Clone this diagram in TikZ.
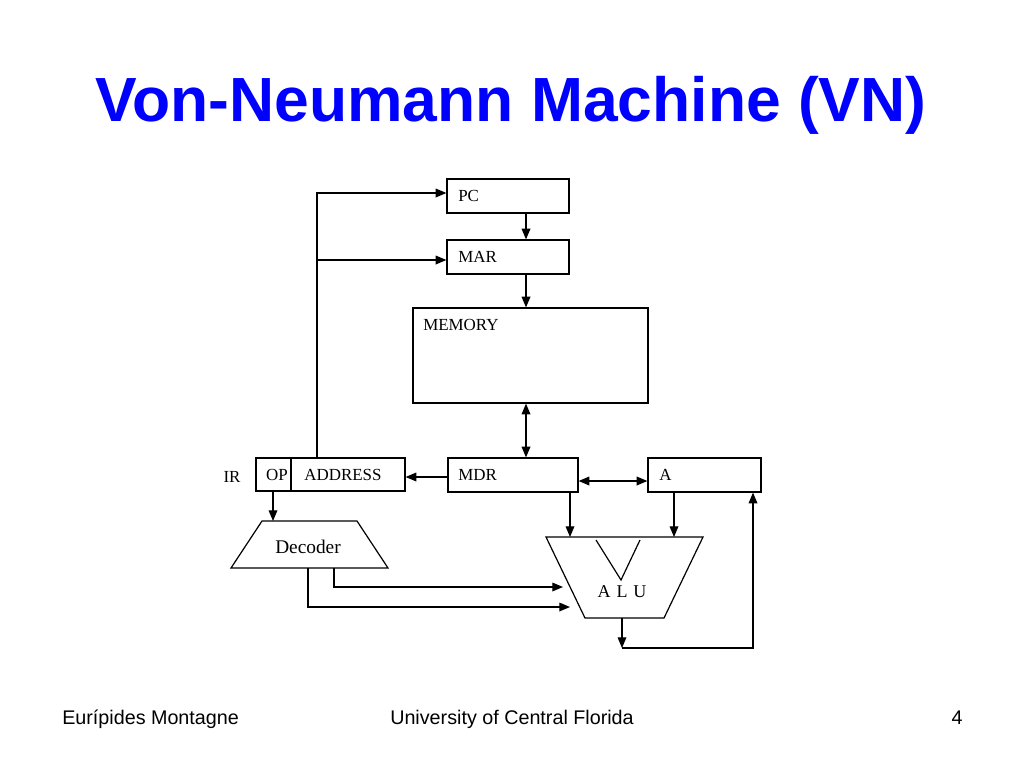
\documentclass[tikz,border=0pt]{standalone}
\usepackage{fontspec}
\setmainfont{Liberation Serif}
\newfontfamily\arialfont{Liberation Sans}
\usetikzlibrary{arrows.meta}
\definecolor{titleblue}{RGB}{0,0,255}
\tikzset{
  reg/.style={draw, line width=0.9pt, minimum width=#1, minimum height=25.5pt, inner sep=0pt},
  txt/.style={font=\fontsize{12.7}{14}\selectfont, inner sep=0pt},
  wire/.style={line width=0.9pt},
  arr/.style={wire, -{Triangle[length=8pt,width=6.5pt]}},
  darr/.style={wire, {Triangle[length=8pt,width=6.5pt]}-{Triangle[length=8pt,width=6.5pt]}},
}
\begin{document}
\begin{tikzpicture}[x=0.75pt,y=-0.75pt]
\useasboundingbox (0,0) rectangle (1024,768);
% title
\node[anchor=base, text=titleblue, font=\arialfont\bfseries\fontsize{46.8}{50}\selectfont, inner sep=0pt] (title) at (511,121) {Von-Neumann Machine (VN)};
% registers
\node[reg=91.5pt] (pc) at (508,196) {};
\node[txt, anchor=west] (pct) at (458,196) {PC};
\node[reg=91.5pt] (mar) at (508,257) {};
\node[txt, anchor=west] (mart) at (458,257) {MAR};
\node[draw, line width=0.9pt, minimum width=176.25pt, minimum height=71.25pt, inner sep=0pt] (mem) at (530.5,355.5) {};
\node[txt, anchor=west] (memt) at (423,325) {MEMORY};
\node[reg=97.5pt] (mdr) at (513,475) {};
\node[txt, anchor=west] (mdrt) at (458,475) {MDR};
\node[reg=84.75pt] (a) at (704.5,475) {};
\node[txt, anchor=west] (at) at (659,475) {A};
\node[reg=111.75pt, minimum height=24.75pt] (ir) at (330.5,474.5) {};
\draw[wire] (291,458) -- (291,491);
\node[txt] (opt) at (277,475) {OP};
\node[txt] (addrt) at (343,475) {ADDRESS};
\node[txt] (irl) at (232,477) {IR};
% decoder
\coordinate (d1) at (262,521);
\coordinate (d2) at (357,521);
\coordinate (d3) at (388,568);
\coordinate (d4) at (231,568);
\draw[wire] (d1) -- (d2) -- (d3) -- (d4) -- cycle;
\node[font=\fontsize{14.5}{16}\selectfont, inner sep=0pt] (dect) at (308,547) {Decoder};
% ALU
\coordinate (l1) at (546,537);
\coordinate (l2) at (703,537);
\coordinate (l3) at (664,618);
\coordinate (l4) at (585,618);
\draw[wire] (l1) -- (l2) -- (l3) -- (l4) -- cycle;
\draw[wire] (596,540) -- (621,580) -- (640,540);
\node[font=\fontsize{13.5}{15}\selectfont, inner sep=0pt] (alut) at (622,592) {A\,\,L\,\,U};
% connectors
\draw[arr] (pc.south -| 526,0) -- (mar.north -| 526,0);
\draw[arr] (mar.south -| 526,0) -- (mem.north -| 526,0);
\draw[darr] (mem.south -| 526,0) -- (mdr.north -| 526,0);
\draw[arr] (mdr.west |- 0,477) -- (ir.east |- 0,477);
\draw[darr] (mdr.east |- 0,481) -- (a.west |- 0,481);
\coordinate (bend1) at (317,193);
\draw[arr] (ir.north -| 317,0) -- (bend1) -- (pc.west |- bend1);
\draw[arr] (317,260) -- (mar.west |- 0,260);
\draw[arr] (ir.south -| 273,0) -- (d1 -| 273,0);
\coordinate (dk1) at (334,587);
\coordinate (dk2) at (308,607);
\coordinate (alin1) at (563,587);
\coordinate (alin2) at (570,607);
\draw[arr] (d4 -| dk1) -- (dk1) -- (alin1);
\draw[arr] (d4 -| dk2) -- (dk2) -- (alin2);
\draw[arr] (mdr.south -| 570,0) -- (l1 -| 570,0);
\draw[arr] (a.south -| 674,0) -- (l1 -| 674,0);
\coordinate (aout) at (622,648);
\coordinate (bend2) at (753,648);
\draw[arr] (l4 -| aout) -- (aout);
\draw[arr] (aout) -- (bend2) -- (a.south -| bend2);
% footer
\node[anchor=base west, font=\arialfont\fontsize{14.8}{17}\selectfont, inner sep=0pt] (f1) at (62,724) {Eurípides Montagne};
\node[anchor=base, font=\arialfont\fontsize{14.8}{17}\selectfont, inner sep=0pt] (f2) at (512,724) {University of Central Florida};
\node[anchor=base, font=\arialfont\fontsize{14.8}{17}\selectfont, inner sep=0pt] (f3) at (957,724) {4};
\end{tikzpicture}
\end{document}
